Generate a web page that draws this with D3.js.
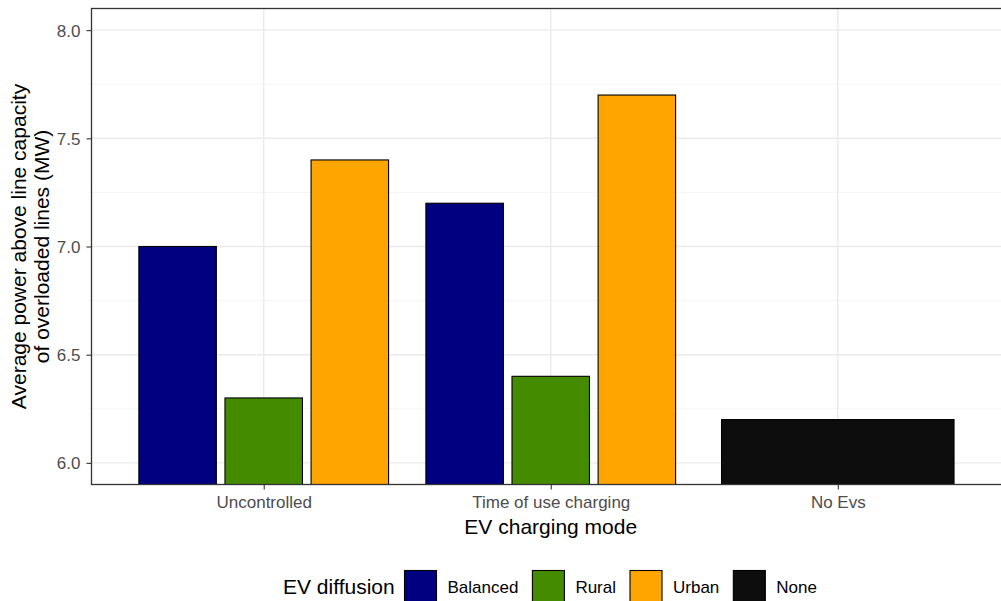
<!DOCTYPE html>
<html><head><meta charset="utf-8">
<script src="https://cdn.jsdelivr.net/npm/d3@7"></script>
<style>body{margin:0;background:#fff}svg{display:block;font-family:"Liberation Sans",Arial,sans-serif}</style>
</head><body><svg id="c" width="1001" height="601"></svg>
<script>
const modes = ["Uncontrolled", "Time of use charging", "No Evs"];
const diffusion = ["Balanced", "Rural", "Urban", "None"];
const colors = ["#000080", "#458B00", "#FFA500", "#0D0D0D"];
const uncontrolled = [7.0, 6.3, 7.4];
const timeOfUse = [7.2, 6.4, 7.7];
const noEvs = [6.2];
const yTicks = [6.0, 6.5, 7.0, 7.5, 8.0];
const yMinor = [6.25, 6.75, 7.25, 7.75];

const data = [];
["Balanced","Rural","Urban"].forEach((s,i)=>data.push({mode:modes[0],series:s,value:uncontrolled[i]}));
["Balanced","Rural","Urban"].forEach((s,i)=>data.push({mode:modes[1],series:s,value:timeOfUse[i]}));
data.push({mode:modes[2],series:"None",value:noEvs[0]});

const FONT = "Liberation Sans, Arial, sans-serif";
const svg = d3.select("#c");
const L=91.5, R=1010, T=8.5, B=484.5;
const x = d3.scalePoint().domain(modes).range([L,R]).padding(0.6);
const step = x.step();
const y = d3.scaleLinear().domain([5.9,8.1]).range([B,T]);
const color = d3.scaleOrdinal().domain(diffusion).range(colors);
const inner3 = d3.scaleBand().domain(["Balanced","Rural","Urban"]).range([-0.45*step,0.45*step]).paddingInner(0.1).paddingOuter(0.05);
const inner1 = d3.scaleBand().domain(["None"]).range([-0.45*step,0.45*step]).paddingInner(0.1).paddingOuter(0.05);

svg.append("defs").append("clipPath").attr("id","clip").append("rect").attr("x",L).attr("y",T).attr("width",R-L).attr("height",B-T);
const g = svg.append("g");
// grid
g.selectAll(".ymin").data(yMinor).join("line").attr("x1",L).attr("x2",R).attr("y1",d=>y(d)).attr("y2",d=>y(d)).attr("stroke","#F2F2F2").attr("stroke-width",0.8);
g.selectAll(".ymaj").data(yTicks).join("line").attr("x1",L).attr("x2",R).attr("y1",d=>y(d)).attr("y2",d=>y(d)).attr("stroke","#EBEBEB").attr("stroke-width",1.4);
g.selectAll(".xmaj").data(modes).join("line").attr("x1",d=>x(d)).attr("x2",d=>x(d)).attr("y1",T).attr("y2",B).attr("stroke","#EBEBEB").attr("stroke-width",1.4);
// bars
g.append("g").attr("clip-path","url(#clip)").selectAll("rect").data(data).join("rect")
  .attr("x",d=>{const ib=d.mode==="No Evs"?inner1:inner3;return x(d.mode)+ib(d.series);})
  .attr("width",d=>(d.mode==="No Evs"?inner1:inner3).bandwidth())
  .attr("y",d=>y(d.value)).attr("height",d=>B+5-y(d.value))
  .attr("fill",d=>color(d.series)).attr("stroke","#000").attr("stroke-width",1.1);
// border
g.append("rect").attr("x",L).attr("y",T).attr("width",R-L).attr("height",B-T).attr("fill","none").attr("stroke","#333").attr("stroke-width",1.3);
// y axis
const ya = svg.append("g").attr("transform",`translate(${L},0)`).call(d3.axisLeft(y).tickValues(yTicks).tickFormat(d3.format(".1f")).tickSize(5).tickPadding(6));
ya.select(".domain").remove();
ya.selectAll("line").attr("stroke","#333").attr("stroke-width",1.1);
ya.selectAll("text").attr("fill","#4D4D4D").style("font-size","17px").style("font-family",FONT).attr("dy","0.35em");
// x axis
const xa = svg.append("g").attr("transform",`translate(0,${B})`).call(d3.axisBottom(x).tickSize(5).tickPadding(6));
xa.select(".domain").remove();
xa.selectAll("line").attr("stroke","#333").attr("stroke-width",1.1);
xa.selectAll("text").attr("fill","#4D4D4D").style("font-size","17px").style("font-family",FONT).attr("dy","0.71em");
// titles
svg.append("text").attr("x",x("Time of use charging")).attr("y",534).attr("text-anchor","middle").style("font-size","21px").attr("fill","#000").text("EV charging mode");
const yt = svg.append("text").attr("transform",`translate(26,${(T+B)/2}) rotate(-90)`).attr("text-anchor","middle").style("font-size","21px").attr("fill","#000");
yt.append("tspan").attr("x",0).attr("dy",0).text("Average power above line capacity");
yt.append("tspan").attr("x",0).attr("dy",23).text("of overloaded lines (MW)");
// legend
const lg = svg.append("g");
lg.append("text").attr("x",283).attr("y",594).style("font-size","21px").attr("fill","#000").text("EV diffusion");
let cx = 404.5;
diffusion.forEach(s=>{
  lg.append("rect").attr("x",cx).attr("y",570.5).attr("width",32).attr("height",34).attr("fill",color(s)).attr("stroke","#000").attr("stroke-width",1.1);
  const t = lg.append("text").attr("x",cx+43).attr("y",592.5).style("font-size","17px").attr("fill","#000").text(s);
  cx = cx+43+t.node().getComputedTextLength()+14;
});
</script></body></html>
